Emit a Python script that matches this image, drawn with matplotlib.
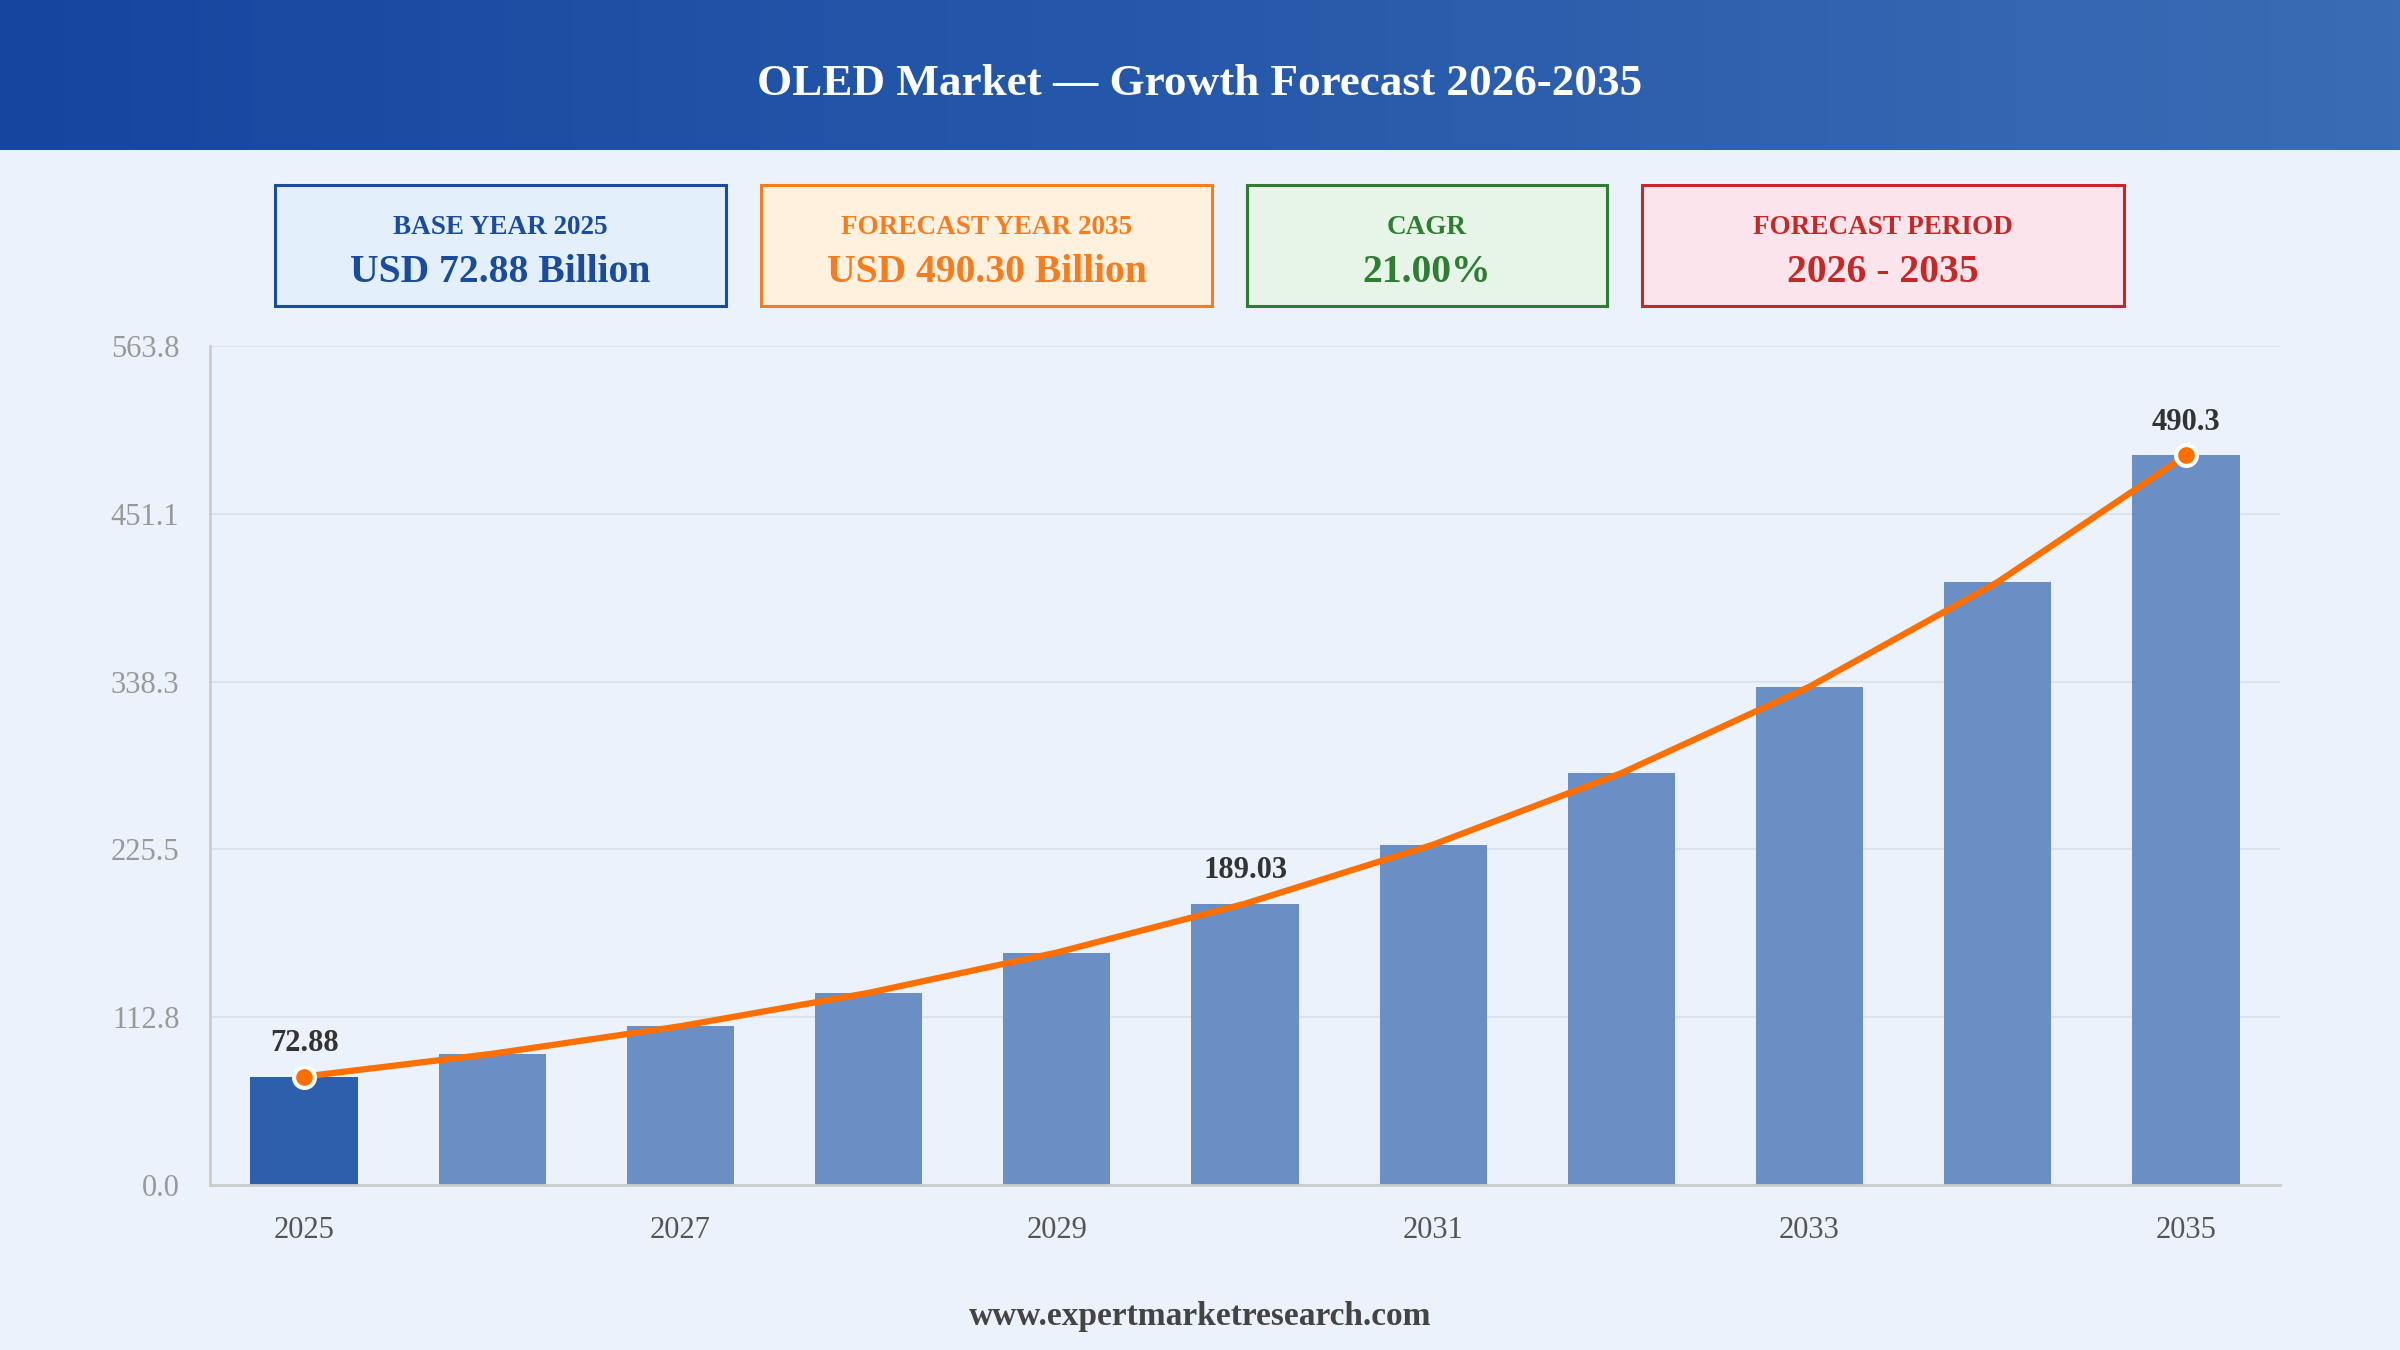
import numpy as np
import matplotlib
matplotlib.use("Agg")
import matplotlib.pyplot as plt
from matplotlib.patches import Rectangle
from matplotlib.colors import LinearSegmentedColormap

# data
years = [2025, 2026, 2027, 2028, 2029, 2030, 2031, 2032, 2033, 2034, 2035]
values = [72.88, 88.18, 106.70, 129.11, 156.22, 189.03, 228.73, 276.76, 334.88, 405.20, 490.30]
labelled_years = [2025, 2030, 2035]
marker_years = [2025, 2035]
y_ticks = [0.0, 112.8, 225.5, 338.3, 451.1, 563.8]
y_tick_labels = ["0.0", "112.8", "225.5", "338.3", "451.1", "563.8"]
x_tick_years = [2025, 2027, 2029, 2031, 2033, 2035]

cards = [
    ("BASE YEAR 2025", "USD 72.88 Billion"),
    ("FORECAST YEAR 2035", "USD 490.30 Billion"),
    ("CAGR", "21.00%"),
    ("FORECAST PERIOD", "2026 - 2035"),
]
card_styles = [
    ("#1a4b9c", "#e3f0fc"),
    ("#f57c1f", "#fff1de"),
    ("#2e7d32", "#e7f5e9"),
    ("#c62828", "#fce4ec"),
]
card_x = [(275, 726), (761, 1212), (1247, 1607), (1642, 2124)]

plt.rcParams["font.family"] = ["Liberation Serif", "DejaVu Serif"]

W, H = 2400, 1350
fig = plt.figure(figsize=(24, 13.5), dpi=100)
fig.patch.set_facecolor("#ebf2fb")

# header band with gradient
hdr = fig.add_axes([0, 1 - 150 / H, 1, 150 / H])
cmap = LinearSegmentedColormap.from_list("hdr", ["#1446a0", "#3a6cb5"])
hdr.imshow(np.linspace(0, 1, 256).reshape(1, -1), aspect="auto", cmap=cmap, extent=[0, 1, 0, 1])
hdr.set_axis_off()
fig.text(0.5, 1 - 84 / H, "OLED Market \u2014 Growth Forecast 2026-2035", ha="center", va="center",
         color="white", fontsize=32.5, fontweight="bold")

# summary cards
for (lab, val), (ec, fc), (x0, x1) in zip(cards, card_styles, card_x):
    fig.patches.append(Rectangle((x0 / W, 1 - 306 / H), (x1 - x0) / W, 121 / H,
                                 transform=fig.transFigure, facecolor=fc, edgecolor=ec, linewidth=2.2))
    cx = (x0 + x1) / 2 / W
    fig.text(cx, 1 - 227 / H, lab, ha="center", va="center", color=ec, fontsize=19.5, fontweight="bold")
    fig.text(cx, 1 - 273 / H, val, ha="center", va="center", color=ec, fontsize=28.5, fontweight="bold")

# main chart
ax = fig.add_axes([210 / W, 1 - 1185 / H, (2280 - 210) / W, (1185 - 346) / H])
ax.set_facecolor("#ebf2fb")
bar_colors = ["#2d5fad" if i == 0 else "#6a8fc4" for i in range(len(years))]
ax.bar(years, values, width=0.57, color=bar_colors, zorder=2)
ax.plot(years, values, color="#ff6f00", linewidth=4.5, zorder=3, solid_capstyle="round")
for yr in marker_years:
    v = values[years.index(yr)]
    ax.plot([yr], [v], "o", markersize=15, markerfacecolor="#ff6f00", markeredgecolor="white",
            markeredgewidth=3, zorder=4)
for yr in labelled_years:
    v = values[years.index(yr)]
    txt = f"{v:.2f}" if yr != 2035 else f"{v:.1f}"
    ax.annotate(txt, (yr, v), xytext=(0, 24), textcoords="offset points", ha="center", va="center",
                fontsize=22, fontweight="bold", color="#333333", zorder=5)

ax.set_xlim(2024.5, 2035.5)
ax.set_ylim(0, 563.8)
ax.set_yticks(y_ticks)
ax.set_yticklabels(y_tick_labels)
ax.set_xticks(x_tick_years)
ax.set_xticklabels([str(y) for y in x_tick_years])
ax.tick_params(axis="y", length=0, pad=22, labelsize=22, labelcolor="#999999")
ax.tick_params(axis="x", length=0, pad=22, labelsize=22, labelcolor="#555555")
ax.grid(axis="y", color="#dde3ea", linewidth=1.5, zorder=0)
ax.set_axisbelow(True)
for s in ["top", "right"]:
    ax.spines[s].set_visible(False)
for s in ["left", "bottom"]:
    ax.spines[s].set_color("#cccccc")
    ax.spines[s].set_linewidth(2)

fig.text(0.5, 1 - 1316 / H, "www.expertmarketresearch.com", ha="center", va="center",
         color="#444444", fontsize=24, fontweight="bold")

fig.savefig("out.png", dpi=100, facecolor=fig.get_facecolor())
